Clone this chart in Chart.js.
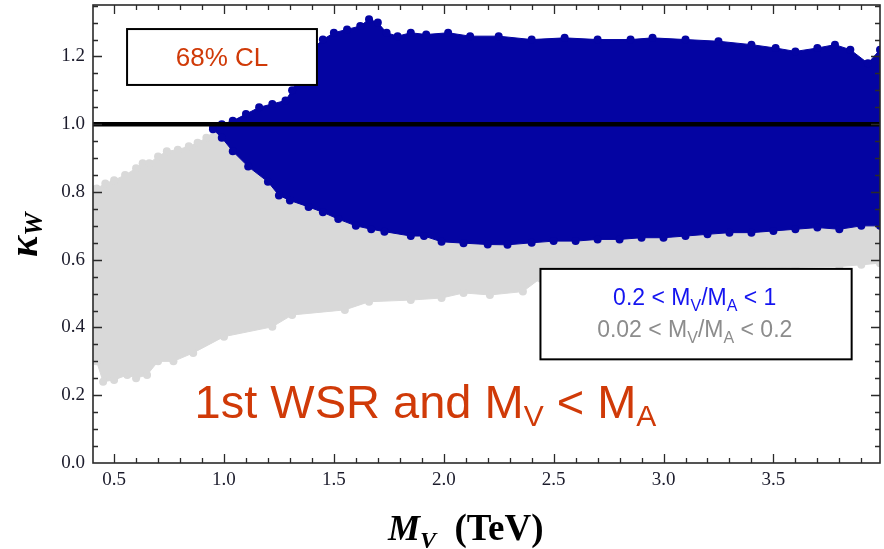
<!DOCTYPE html>
<html><head><meta charset="utf-8">
<script src="https://cdn.jsdelivr.net/npm/chart.js@4.4.0/dist/chart.umd.min.js"></script>
<style>html,body{margin:0;padding:0;background:#fff;}#wrap{width:884px;height:549px;}</style>
</head><body><div id="wrap"><canvas id="c" width="884" height="549"></canvas></div>
<script>
// ---- tick values / labels ----
const xTicks = [0.5, 1.0, 1.5, 2.0, 2.5, 3.0, 3.5];
const xTickLabels = ['0.5','1.0','1.5','2.0','2.5','3.0','3.5'];
const yTicks = [0.0, 0.2, 0.4, 0.6, 0.8, 1.0, 1.2];
const yTickLabels = ['0.0','0.2','0.4','0.6','0.8','1.0','1.2'];
const X_MIN = 0.404, X_MAX = 3.985, Y_MIN = 0, Y_MAX = 1.352;

// ---- gray region: 0.02 < MV/MA < 0.2 (outline) ----
const grayUpperX = [0.404,0.42,0.46,0.50,0.55,0.60,0.63,0.66,0.70,0.74,0.79,0.84,0.88,0.92,0.955,0.99,1.10,1.50,2.50,3.985];
const grayUpperY = [0.80,0.81,0.825,0.835,0.85,0.87,0.885,0.885,0.905,0.92,0.925,0.935,0.945,0.96,0.98,0.975,0.93,0.85,0.80,0.80];
const grayLowerX = [3.985,3.9,3.8,3.6,3.4,3.2,3.0,2.8,2.6,2.44,2.36,2.21,2.09,1.99,1.85,1.66,1.55,1.31,1.22,1.0,0.86,0.77,0.70,0.65,0.60,0.56,0.50,0.45,0.42,0.404];
const grayLowerY = [0.59,0.585,0.58,0.578,0.575,0.572,0.57,0.565,0.56,0.545,0.506,0.496,0.502,0.487,0.481,0.476,0.452,0.437,0.402,0.373,0.325,0.30,0.30,0.26,0.25,0.26,0.245,0.24,0.30,0.32];

// ---- blue region: 0.2 < MV/MA < 1 ----
const blueUpperX = [0.95,0.99,1.04,1.10,1.16,1.22,1.28,1.31,1.35,1.40,1.45,1.50,1.56,1.62,1.66,1.70,1.74,1.79,1.85,1.92,2.02,2.12,2.25,2.40,2.55,2.70,2.85,2.95,3.10,3.25,3.40,3.51,3.60,3.70,3.78,3.85,3.93,3.985];
const blueUpperY = [0.99,1.00,1.01,1.03,1.05,1.06,1.07,1.10,1.15,1.22,1.25,1.27,1.28,1.29,1.31,1.30,1.27,1.26,1.27,1.265,1.27,1.26,1.26,1.25,1.255,1.25,1.25,1.255,1.25,1.245,1.235,1.225,1.215,1.225,1.235,1.22,1.18,1.22];
const blueLowerX = [3.985,3.9,3.8,3.7,3.6,3.5,3.4,3.3,3.2,3.1,3.0,2.9,2.8,2.7,2.6,2.5,2.4,2.29,2.2,2.09,1.99,1.91,1.85,1.73,1.67,1.6,1.52,1.45,1.385,1.3,1.25,1.2,1.11,1.04,0.99,0.95];
const blueLowerY = [0.70,0.70,0.69,0.695,0.69,0.685,0.68,0.68,0.675,0.67,0.665,0.665,0.66,0.66,0.655,0.655,0.65,0.644,0.645,0.649,0.653,0.67,0.67,0.683,0.69,0.70,0.72,0.74,0.756,0.775,0.79,0.83,0.875,0.92,0.96,0.985];

// ---- reference line kappa_W = 1 ----
const refLineY = 1.0;

const GRAY = '#d9d9d9', BLUE = '#0404a2', RED = 'rgb(208,58,8)';

const pts = (xs, ys) => xs.map((x, i) => ({x, y: ys[i]}));
const grayData = pts(grayUpperX, grayUpperY).concat(pts(grayLowerX, grayLowerY));
const blueData = pts(blueUpperX, blueUpperY).concat(pts(blueLowerX, blueLowerY));

function rich(ctx, parts, x, y, align) {
  let w = 0;
  for (const p of parts) { ctx.font = p.f; p.w = ctx.measureText(p.t).width; w += p.w; }
  let cx = align === 'center' ? x - w / 2 : x;
  for (const p of parts) { ctx.font = p.f; ctx.fillStyle = p.c; ctx.fillText(p.t, cx, y + (p.dy || 0)); cx += p.w; }
}

const framePlugin = {
  id: 'frame',
  afterDatasetsDraw(chart) {
    const {ctx, chartArea: a, scales: {x, y}} = chart;
    ctx.save();
    ctx.strokeStyle = '#2a2a2a';
    ctx.lineWidth = 1.6;
    ctx.strokeRect(a.left, a.top, a.right - a.left, a.bottom - a.top);
    ctx.lineWidth = 1.3;
    ctx.beginPath();
    for (let k = 5; k <= 39; k++) {
      const v = k / 10, px = Math.round(x.getPixelForValue(v)) + 0.5;
      const L = (k % 5 === 0) ? 9 : 5;
      ctx.moveTo(px, a.bottom); ctx.lineTo(px, a.bottom - L);
      ctx.moveTo(px, a.top); ctx.lineTo(px, a.top + L);
    }
    for (let k = 1; k <= 27; k++) {
      const v = k / 20, py = Math.round(y.getPixelForValue(v)) + 0.5;
      const L = (k % 4 === 0) ? 9 : 5;
      ctx.moveTo(a.left, py); ctx.lineTo(a.left + L, py);
      ctx.moveTo(a.right, py); ctx.lineTo(a.right - L, py);
    }
    ctx.stroke();

    // 68% CL box
    const bx0 = x.getPixelForValue(0.559), bx1 = x.getPixelForValue(1.423);
    const by0 = y.getPixelForValue(1.281), by1 = y.getPixelForValue(1.116);
    ctx.fillStyle = '#fff';
    ctx.fillRect(bx0, by0, bx1 - bx0, by1 - by0);
    ctx.strokeStyle = '#000'; ctx.lineWidth = 2;
    ctx.strokeRect(bx0, by0, bx1 - bx0, by1 - by0);
    ctx.textBaseline = 'alphabetic';
    rich(ctx, [{t: '68% CL', f: '26px "Liberation Sans"', c: RED}], (bx0 + bx1) / 2, y.getPixelForValue(1.172), 'center');

    // legend box
    const lx0 = x.getPixelForValue(2.44), lx1 = x.getPixelForValue(3.856);
    const ly0 = y.getPixelForValue(0.573), ly1 = y.getPixelForValue(0.306);
    ctx.fillStyle = '#fff';
    ctx.fillRect(lx0, ly0, lx1 - lx0, ly1 - ly0);
    ctx.strokeRect(lx0, ly0, lx1 - lx0, ly1 - ly0);
    const LB = 'rgb(20,20,240)', LG = '#8c8c8c';
    const F = '23px "Liberation Sans"', FS = '16px "Liberation Sans"';
    rich(ctx, [{t: '0.2 < M', f: F, c: LB}, {t: 'V', f: FS, c: LB, dy: 6}, {t: '/M', f: F, c: LB}, {t: 'A', f: FS, c: LB, dy: 6}, {t: ' < 1', f: F, c: LB}],
      x.getPixelForValue(3.142), y.getPixelForValue(0.4665), 'center');
    rich(ctx, [{t: '0.02 < M', f: F, c: LG}, {t: 'V', f: FS, c: LG, dy: 6}, {t: '/M', f: F, c: LG}, {t: 'A', f: FS, c: LG, dy: 6}, {t: ' < 0.2', f: F, c: LG}],
      x.getPixelForValue(3.142), y.getPixelForValue(0.372), 'center');

    // big label
    const BF = '47px "Liberation Sans"', BS = '30px "Liberation Sans"';
    rich(ctx, [{t: '1st WSR and M', f: BF, c: RED}, {t: 'V', f: BS, c: RED, dy: 8}, {t: ' < M', f: BF, c: RED}, {t: 'A', f: BS, c: RED, dy: 8}],
      x.getPixelForValue(0.866), y.getPixelForValue(0.133), 'left');

    // x axis title
    rich(ctx, [{t: 'M', f: 'bold italic 36px "Liberation Serif"', c: '#000'}, {t: 'V', f: 'bold italic 24px "Liberation Serif"', c: '#000', dy: 8},
      {t: '  (TeV)', f: 'bold 37px "Liberation Serif"', c: '#000'}], 388, 540, 'left');

    // y axis title (rotated)
    ctx.translate(37, 257);
    ctx.rotate(-Math.PI / 2);
    rich(ctx, [{t: '\u03BA', f: 'bold italic 40px "Liberation Serif"', c: '#000'}, {t: 'W', f: 'bold italic 26px "Liberation Serif"', c: '#000', dy: 5}], 0, 0, 'left');
    ctx.restore();
  }
};

new Chart(document.getElementById('c'), {
  type: 'line',
  data: {
    datasets: [
      {label: 'kappa=1', data: [{x: X_MIN, y: refLineY}, {x: X_MAX, y: refLineY}], borderColor: '#000', borderWidth: 4.5, pointRadius: 0, fill: false, order: 1},
      {label: '0.2 < MV/MA < 1', data: blueData, borderColor: BLUE, backgroundColor: BLUE, borderWidth: 1, pointRadius: 4, pointBorderWidth: 0, pointBackgroundColor: BLUE, fill: 'shape', tension: 0, order: 2},
      {label: '0.02 < MV/MA < 0.2', data: grayData, borderColor: GRAY, backgroundColor: GRAY, borderWidth: 1, pointRadius: 4, pointBorderWidth: 0, pointBackgroundColor: GRAY, fill: 'shape', tension: 0, order: 3}
    ]
  },
  options: {
    responsive: false, animation: false, events: [],
    layout: {padding: {top: 5, right: 0, left: 0, bottom: 0}},
    plugins: {legend: {display: false}, tooltip: {enabled: false}},
    scales: {
      x: {
        type: 'linear', min: X_MIN, max: X_MAX,
        afterFit(s) { s.height = 86; s.paddingLeft = 0; s.paddingRight = 0; s.paddingTop = 0; s.paddingBottom = 0; },
        afterBuildTicks(s) { s.ticks = xTicks.map(v => ({value: v})); },
        ticks: {callback: (v, i) => xTickLabels[i], font: {family: 'Liberation Serif', size: 19}, color: '#1c1c2c', padding: 6, maxRotation: 0, autoSkip: false},
        grid: {display: false, drawTicks: false}, border: {display: false}
      },
      y: {
        type: 'linear', min: Y_MIN, max: Y_MAX,
        afterFit(s) { s.width = 93; s.paddingLeft = 0; s.paddingRight = 0; s.paddingTop = 0; s.paddingBottom = 0; },
        afterBuildTicks(s) { s.ticks = yTicks.map(v => ({value: v})); },
        ticks: {callback: (v, i) => yTickLabels[i], font: {family: 'Liberation Serif', size: 19}, color: '#1c1c2c', padding: 8, autoSkip: false},
        grid: {display: false, drawTicks: false}, border: {display: false}
      }
    }
  },
  plugins: [framePlugin]
});
</script>
</body></html>
